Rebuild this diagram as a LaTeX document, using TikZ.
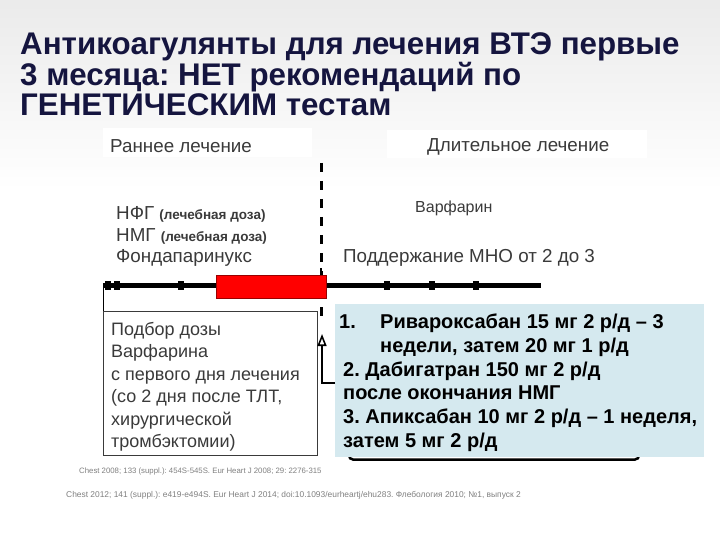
\documentclass[tikz,border=0pt]{standalone}
\usepackage{fontspec}
\setmainfont{Liberation Sans}
\newfontfamily\titlefont{Liberation Sans}
\usetikzlibrary{arrows.meta}
\definecolor{titleblue}{HTML}{15153F}
\definecolor{textgray}{HTML}{3A3A3A}
\definecolor{boxblue}{HTML}{D5E9EF}
\definecolor{barred}{HTML}{FF0000}
\newcommand\dosetext[1]{{\bfseries\fontsize{13.5}{15}\selectfont #1}}
\frenchspacing

\begin{document}
\begin{tikzpicture}[x=1pt,y=-1pt,
  titleline/.style={anchor=base west,inner sep=0pt,text=titleblue,font=\titlefont\bfseries\fontsize{31.3}{30}\selectfont},
  phase/.style={anchor=base west,inner sep=0pt,text=textgray,font=\fontsize{18.8}{22}\selectfont},
  drug/.style={anchor=base west,inner sep=0pt,text=textgray,font=\fontsize{18.8}{22}\selectfont},
  boxline/.style={anchor=base west,inner sep=0pt,text=textgray,font=\fontsize{18}{21}\selectfont},
  noacline/.style={anchor=base west,inner sep=0pt,text=black,font=\bfseries\fontsize{20}{24}\selectfont},
  refline/.style={anchor=base west,inner sep=0pt,text=gray,font=\fontsize{7.8}{9}\selectfont},
  tick/.style={fill=black,minimum width=6pt,minimum height=9pt,inner sep=0pt},
  timeline/.style={line width=5pt},
  phaseline/.style={line width=3pt,dash pattern=on 9pt off 9pt}
]
\useasboundingbox (0,0) rectangle (720,540);
\fill[white] (0,0) rectangle (720,540);
\shade[top color=black!8,bottom color=white] (0,0) rectangle (720,190);

\node[titleline] (title1) at (20,55) {Антикоагулянты для лечения ВТЭ первые};
\node[titleline] (title2) at (20,85.5) {3 месяца: НЕТ рекомендаций по};
\node[titleline] (title3) at (20,115.5) {ГЕНЕТИЧЕСКИМ тестам};

\fill[white] (103,128) rectangle (312,157);
\fill[white] (387,130) rectangle (647,158);
\node[phase] (early) at (110,153) {Раннее лечение};
\node[phase] (long) at (427,152) {Длительное лечение};

\node[drug] (nfg) at (116,219) {НФГ \dosetext{(лечебная доза)}};
\node[drug] (nmg) at (116,241) {НМГ \dosetext{(лечебная доза)}};
\node[drug] (fonda) at (116,262) {Фондапаринукс};
\node[drug,font=\fontsize{16}{18}\selectfont] (warf) at (415,213) {Варфарин};
\node[drug] (inr) at (343,262) {Поддержание МНО от 2 до 3};

\coordinate (tstart) at (103,285);
\coordinate (tend) at (541,285);
\coordinate (dtop) at (321,163);
\coordinate (dbot) at (321,322);

\draw[phaseline] (dtop) -- (dbot);
\draw[timeline] (tstart) -- (tend);
\node[tick] at (108,285) {};
\node[tick] at (117,285) {};
\node[tick] at (181,285) {};
\node[tick] at (387,285) {};
\node[tick] at (432,285) {};
\node[tick] at (476,285) {};
\draw[fill=barred,draw=red!60!black,line width=0.8pt] (216,275) rectangle (326,298);
\draw[black,line width=1.2pt] (321,268) -- (321,275);

\draw[textgray,line width=0.8pt,fill=white] (103,311) rectangle (317,455);
\draw[black,line width=1pt] (tstart) -- (103,311);
\node[boxline] (sel1) at (111,335) {Подбор дозы};
\node[boxline] (sel2) at (111,357) {Варфарина};
\node[boxline] (sel3) at (111,380) {с первого дня лечения};
\node[boxline] (sel4) at (111,402) {(со 2 дня после ТЛТ,};
\node[boxline] (sel5) at (111,425) {хирургической};
\node[boxline] (sel6) at (111,447) {тромбэктомии)};

\draw[line width=2.5pt,rounded corners=4pt] (349,450) -- (349,459.5) -- (639,459.5) -- (639,450);
\fill[boxblue] (335,304) rectangle (704,457);
\coordinate (noacin) at (335,383);
\draw[line width=1.6pt,-{Triangle[open,length=12pt,width=9pt]}] (noacin) -- (322,383) -- (322,334);

\node[noacline] (n1) at (339,328) {1.};
\node[noacline] (riva1) at (380,328) {Ривароксабан 15 мг 2 р/д – 3};
\node[noacline] (riva2) at (380,352) {недели, затем 20 мг 1 р/д};
\node[noacline] (dabi1) at (343,376) {2. Дабигатран 150 мг 2 р/д};
\node[noacline] (dabi2) at (343,399) {после окончания НМГ};
\node[noacline] (apix1) at (343,423) {3. Апиксабан 10 мг 2 р/д – 1 неделя,};
\node[noacline] (apix2) at (343,447) {затем 5 мг 2 р/д};

\node[refline] (ref1) at (79,473) {Chest 2008; 133 (suppl.): 454S-545S. Eur Heart J 2008; 29: 2276-315};
\node[refline,font=\fontsize{8.4}{10}\selectfont] (ref2) at (66,497) {Chest 2012; 141 (suppl.): e419-e494S. Eur Heart J 2014; doi:10.1093/eurheartj/ehu283. Флебология 2010; №1, выпуск 2};
\end{tikzpicture}
\end{document}
